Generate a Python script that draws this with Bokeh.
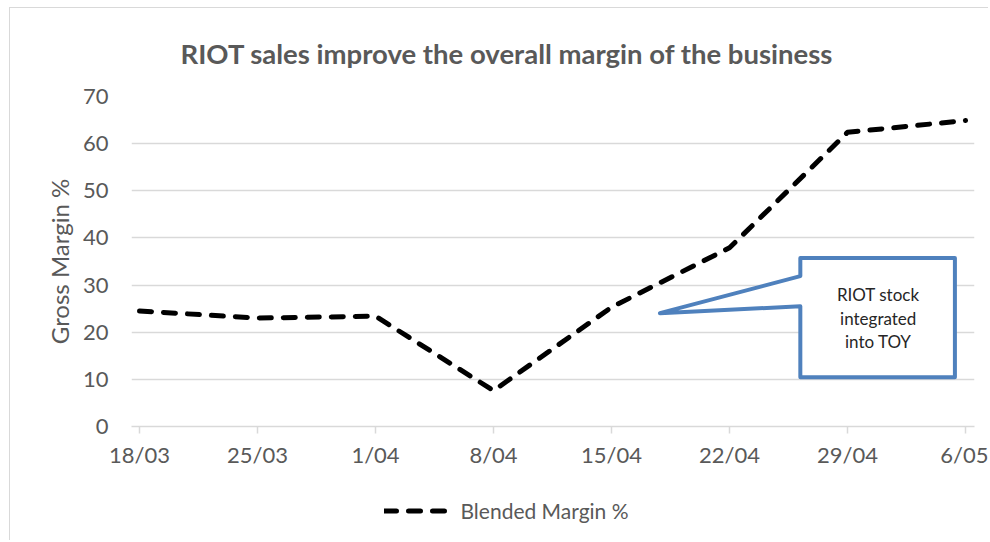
from bokeh.plotting import figure
from bokeh.layouts import column
from bokeh.models import Range1d, FixedTicker, Label, PolyAnnotation, Legend, LegendItem
from bokeh.embed import file_html
from bokeh.resources import INLINE

# ---- data ----
weeks = ["18/03", "25/03", "1/04", "8/04", "15/04", "22/04", "29/04", "6/05"]
blended_margin = [24.5, 23.0, 23.4, 7.6, 25.3, 37.9, 62.4, 64.9]
y_ticks = [0, 10, 20, 30, 40, 50, 60, 70]
series_name = "Blended Margin %"
title_text = "RIOT sales improve the overall margin of the business"
y_title = "Gross Margin %"
callout_lines = ["RIOT stock", "integrated", "into TOY"]

# ---- styles / layout ----
FONT = "Lato"
GREY_TEXT = "#595959"
GRID = "#d9d9d9"
BLUE = "#4F81BD"
X_PAD_LEFT, X_PAD_RIGHT = 0.068, 0.076
CANVAS_LEFT, CANVAS_TOP = 10, 8
W = 978
CHART_BOTTOM, PAGE_BOTTOM = 480, 540
FRAME_L, FRAME_R, FRAME_T, FRAME_B = 131, 973, 96, 425
LINE_STYLE = dict(line_color="black", line_width=5, line_dash="12 12",
                  line_cap="round", line_join="round")

x = list(range(len(weeks)))

p = figure(frame_width=FRAME_R - FRAME_L, frame_height=FRAME_B - FRAME_T,
           output_backend="svg", toolbar_location=None,
           x_range=Range1d(-X_PAD_LEFT, len(weeks) - 1 + X_PAD_RIGHT),
           y_range=Range1d(0, 70),
           min_border_left=FRAME_L - CANVAS_LEFT,
           min_border_right=CANVAS_LEFT + W - FRAME_R,
           min_border_top=FRAME_T - CANVAS_TOP,
           min_border_bottom=CHART_BOTTOM - FRAME_B)
p.styles = {"margin-left": "9px", "margin-top": "7px",
            "border-left": "1px solid #d9d9d9", "border-top": "1px solid #d9d9d9"}
p.outline_line_color = None
p.background_fill_color = "white"
p.border_fill_color = "white"

# title
p.title.text = title_text
p.title.align = "left"
p.title.offset = 180 - FRAME_L
p.title.standoff = 53
p.title.text_font = FONT
p.title.text_font_size = "27.5px"
p.title.text_font_style = "bold"
p.title.text_color = GREY_TEXT

# x axis
ax = p.xaxis[0]
ax.ticker = FixedTicker(ticks=x)
ax.major_label_overrides = {i: w for i, w in zip(x, weeks)}
ax.axis_line_color = GRID
ax.axis_line_width = 1.5
ax.major_tick_line_color = GRID
ax.major_tick_line_width = 1.5
ax.major_tick_out = 7
ax.major_tick_in = 0
ax.minor_tick_line_color = None
ax.major_label_standoff = 7
ax.major_label_text_font = FONT
ax.major_label_text_font_size = "22px"
ax.major_label_text_color = GREY_TEXT

# y axis
p.yaxis.ticker = FixedTicker(ticks=y_ticks)
p.yaxis.axis_line_color = None
p.yaxis.major_tick_line_color = None
p.yaxis.minor_tick_line_color = None
p.yaxis.major_tick_out = 0
p.yaxis.major_tick_in = 0
p.yaxis.major_label_standoff = 23
p.yaxis.major_label_text_font = FONT
p.yaxis.major_label_text_font_size = "22px"
p.yaxis.major_label_text_color = GREY_TEXT
p.yaxis.axis_label = y_title
p.yaxis.axis_label_standoff = 6
p.yaxis.axis_label_text_font = FONT
p.yaxis.axis_label_text_font_size = "24px"
p.yaxis.axis_label_text_font_style = "normal"
p.yaxis.axis_label_text_color = GREY_TEXT

p.xgrid.grid_line_color = None
p.ygrid.ticker = FixedTicker(ticks=y_ticks)
p.ygrid.grid_line_color = GRID
p.ygrid.grid_line_width = 1.5

# series
r = p.line(x, blended_margin, **LINE_STYLE)

# callout
cx0, cx1, cy_top, cy_bot = 5.60, 6.91, 35.74, 10.43
tip_x, tip_y, base_hi, base_lo = 4.41, 24.04, 31.9, 25.5
p.add_layout(PolyAnnotation(
    xs=[cx0, cx1, cx1, cx0, cx0, tip_x, cx0],
    ys=[cy_top, cy_top, cy_bot, cy_bot, base_lo, tip_y, base_hi],
    fill_color="white", fill_alpha=1, line_color=BLUE, line_alpha=1, line_width=4,
    line_join="round"))
for txt, yy in zip(callout_lines, [28.1, 23.0, 18.1]):
    p.add_layout(Label(x=6.26, y=yy, text=txt, text_align="center", text_baseline="middle",
                       text_font=FONT, text_font_size="17px", text_color="#262626"))

# legend strip (same width and frame as the chart, directly below it);
# the series is drawn here outside the strip's visible range so only its legend key shows
lg = figure(frame_width=FRAME_R - FRAME_L, frame_height=PAGE_BOTTOM - CHART_BOTTOM,
            output_backend="svg", toolbar_location=None,
            x_range=Range1d(-100, -99), y_range=Range1d(0, 1),
            x_axis_type=None, y_axis_type=None,
            min_border_left=FRAME_L - CANVAS_LEFT,
            min_border_right=CANVAS_LEFT + W - FRAME_R,
            min_border_top=0, min_border_bottom=0)
lg.styles = {"margin-left": "9px", "border-left": "1px solid #d9d9d9"}
lg.outline_line_color = None
lg.xgrid.visible = False
lg.ygrid.visible = False
lg.background_fill_color = "white"
lg.border_fill_color = "white"
key = lg.line(x, blended_margin, **LINE_STYLE)

legend = Legend(items=[LegendItem(label=series_name, renderers=[key])],
                location="center",
                orientation="horizontal", glyph_width=64, glyph_height=20, label_standoff=13,
                label_width=261,
                padding=0, margin=0, spacing=0, border_line_color=None,
                background_fill_alpha=0, label_text_font=FONT, label_text_font_size="21px",
                label_text_color=GREY_TEXT)
lg.add_layout(legend)

layout = column(p, lg, spacing=0)
open("out.html", "w").write(file_html(layout, INLINE))
